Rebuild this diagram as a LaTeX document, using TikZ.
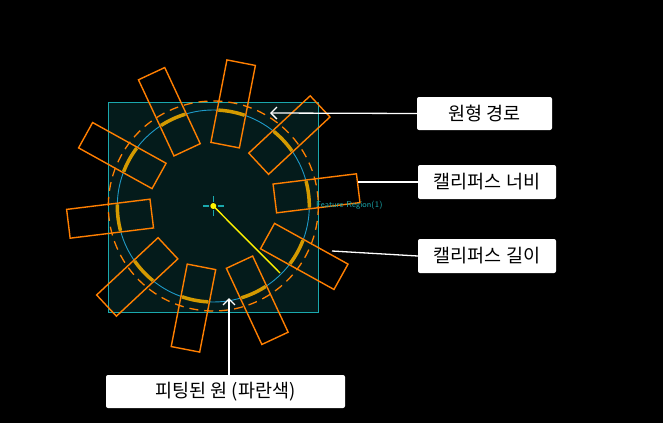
\documentclass[tikz,border=0pt]{standalone}
\usepackage{fontspec}
\newfontfamily\kr{Noto Sans CJK KR}
\usetikzlibrary{arrows.meta,calc}
\definecolor{teal1}{HTML}{1AA8AD}
\definecolor{regfill}{HTML}{041B1B}
\definecolor{orng}{HTML}{FF7F00}
\definecolor{gold}{HTML}{D49A00}
\definecolor{circblue}{HTML}{1E9AC8}
\tikzset{
  label box/.style={fill=white,rounded corners=2pt,inner sep=0pt,font=\kr\fontsize{18.5}{20}\selectfont,text=black},
  pointer/.style={draw=white,line width=1.3pt},
  caliper/.style={draw=orng,line width=1.4pt},
}
\begin{document}
\begin{tikzpicture}[x=1pt,y=-1pt]
\fill[black] (0,0) rectangle (663,423);
\useasboundingbox (0,0) rectangle (663,423);
\draw[teal1,fill=regfill,line width=1pt] (108,102) rectangle (318,312);
\coordinate (c) at (213.3,206);
\draw[circblue,line width=0.9pt] (c) circle[radius=96];
\draw[orng,line width=1.3pt,dash pattern=on 9pt off 6pt] (c) circle[radius=105];
\foreach \a in {7,43,79,115,151,187,223,259,295,331}{
  \draw[gold,line width=3.5pt,shift={(c)}] plot[domain={\a-8}:{\a+8},samples=12,smooth] (\x:96pt);
  \draw[caliper,rotate around={\a:(c)}] ($(c)+(62,-14.5)$) rectangle ($(c)+(146,14.5)$);
}
\draw[yellow,line width=1.4pt] (c) -- (280,273);
\draw[teal1,line width=1.4pt] (203,206) -- (209,206) (217.6,206) -- (223.6,206) (213.3,196) -- (213.3,202) (213.3,210) -- (213.3,216);
\fill[yellow] (c) circle[radius=3];
\node[anchor=west,text=teal1,font=\sffamily\fontsize{8.5}{9}\selectfont,inner sep=0pt] (fr) at (316,205) {Feature Region(1)};
\node[label box,minimum width=135,minimum height=33] (b1) at (484.5,113.5) {원형 경로};
\node[label box,minimum width=138,minimum height=34] (b2) at (487,182) {캘리퍼스 너비};
\node[label box,minimum width=138,minimum height=34] (b3) at (487,256) {캘리퍼스 길이};
\node[label box,minimum width=239,minimum height=33] (b4) at (225.5,391.5) {피팅된 원 (파란색)};
\coordinate (p1) at (270,113);
\coordinate (p2) at (358,182);
\coordinate (p3) at (332,251);
\coordinate (p4) at (229,298);
\draw[pointer,-{Straight Barb[length=6pt,width=12pt]}] (b1.west) -- (p1);
\draw[pointer] (b2.west) -- (p2);
\draw[pointer] (b3.west) -- (p3);
\draw[pointer,-{Straight Barb[length=6pt,width=12pt]}] (b4.north -| p4) -- (p4);
\end{tikzpicture}
\end{document}
